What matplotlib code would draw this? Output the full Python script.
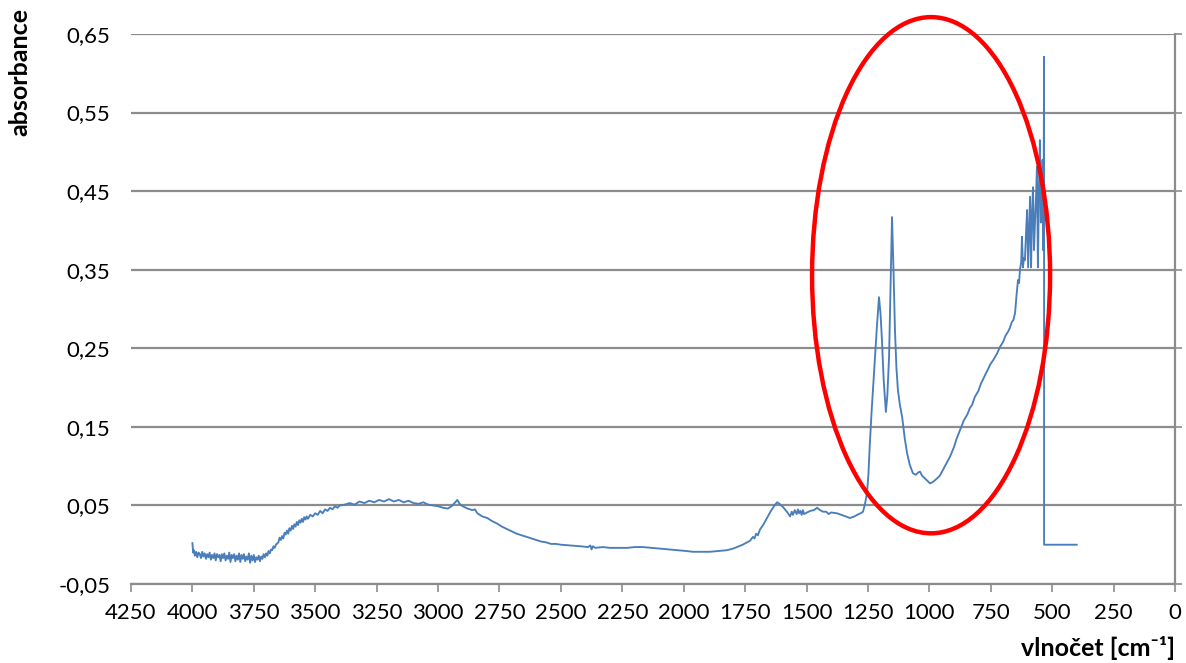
import matplotlib
matplotlib.use("Agg")
import matplotlib.pyplot as plt
from matplotlib.patches import Ellipse
from matplotlib.ticker import FixedLocator, FuncFormatter

plt.rcParams['font.family'] = ['Lato', 'DejaVu Sans']

# ---- data ----
wn_low = [4000, 3997, 3994, 3990, 3985, 3980, 3975, 3970, 3965, 3960, 3955, 3950, 3945,
          3940, 3935, 3930, 3925, 3920, 3915, 3910, 3905, 3900, 3895, 3890, 3885, 3880,
          3875, 3870, 3865, 3860, 3855, 3850, 3845, 3840, 3835, 3830, 3825, 3820, 3815,
          3810, 3805, 3800, 3795, 3790, 3785, 3780, 3775, 3770, 3765, 3760, 3755, 3750,
          3745, 3740, 3735, 3730, 3725, 3720, 3715, 3710, 3705, 3700, 3695, 3690, 3685,
          3680, 3675, 3670, 3665, 3660]
abs_low = [0.002, -0.010, -0.007, -0.014, -0.009, -0.016, -0.010, -0.012, -0.017, -0.009,
           -0.015, -0.011, -0.018, -0.012, -0.016, -0.010, -0.019, -0.013, -0.017, -0.011,
           -0.020, -0.012, -0.016, -0.013, -0.021, -0.012, -0.017, -0.011, -0.020, -0.014,
           -0.018, -0.010, -0.022, -0.013, -0.017, -0.012, -0.021, -0.014, -0.019, -0.011,
           -0.022, -0.013, -0.018, -0.012, -0.021, -0.015, -0.019, -0.011, -0.023, -0.014,
           -0.020, -0.013, -0.022, -0.016, -0.019, -0.014, -0.021, -0.015, -0.018, -0.012,
           -0.016, -0.011, -0.014, -0.008, -0.011, -0.006, -0.007, -0.002, -0.004, 0.000]

wn_oh = [3650, 3645, 3640, 3635, 3630, 3625, 3620, 3615, 3610, 3605, 3600, 3595, 3590,
         3585, 3580, 3575, 3570, 3565, 3560, 3555, 3550, 3545, 3540, 3535, 3530, 3520,
         3510, 3500, 3490, 3480, 3470, 3460, 3450, 3440, 3430, 3420, 3410, 3400, 3380,
         3360, 3340, 3320, 3300, 3280, 3260, 3240, 3220, 3200, 3180, 3160, 3140, 3120,
         3100, 3080, 3060, 3040, 3020, 3000, 2980, 2960, 2945, 2930, 2922, 2912, 2900,
         2880, 2860, 2850, 2840, 2820, 2800, 2780, 2760, 2740, 2720, 2700, 2680, 2660,
         2640, 2620, 2600, 2580, 2560, 2540, 2520, 2500]
abs_oh = [0.003, 0.009, 0.006, 0.011, 0.008, 0.015, 0.013, 0.018, 0.014, 0.021, 0.018,
          0.024, 0.020, 0.026, 0.023, 0.029, 0.025, 0.031, 0.028, 0.033, 0.029, 0.035,
          0.032, 0.036, 0.033, 0.038, 0.036, 0.040, 0.038, 0.043, 0.040, 0.045, 0.043,
          0.047, 0.045, 0.049, 0.047, 0.050, 0.051, 0.053, 0.051, 0.055, 0.053, 0.056,
          0.054, 0.057, 0.055, 0.058, 0.055, 0.057, 0.054, 0.056, 0.053, 0.052, 0.054,
          0.051, 0.050, 0.049, 0.047, 0.046, 0.049, 0.054, 0.057, 0.052, 0.049, 0.046,
          0.044, 0.045, 0.040, 0.036, 0.034, 0.030, 0.027, 0.023, 0.020, 0.017, 0.014,
          0.012, 0.010, 0.008, 0.006, 0.004, 0.003, 0.001, 0.001, 0.000]

wn_mid = [2460, 2420, 2390, 2380, 2375, 2370, 2360, 2330, 2300, 2260, 2230, 2200, 2166,
          2130, 2096, 2060, 2027, 1990, 1962, 1930, 1893, 1860, 1824, 1800, 1783, 1760,
          1742, 1730, 1718, 1712, 1705, 1698, 1690, 1675, 1661, 1645, 1630, 1620, 1610,
          1596, 1580, 1567, 1560, 1555, 1548, 1540, 1535, 1530, 1525, 1520, 1515, 1510,
          1498, 1485, 1470, 1457, 1445, 1433, 1420, 1410, 1400, 1376, 1350, 1323, 1305,
          1294, 1280, 1270]
abs_mid = [-0.001, -0.002, -0.003, -0.001, -0.006, -0.002, -0.004, -0.003, -0.004, -0.004,
           -0.004, -0.003, -0.003, -0.004, -0.005, -0.006, -0.007, -0.008, -0.009, -0.009,
           -0.009, -0.008, -0.007, -0.005, -0.003, 0.000, 0.003, 0.005, 0.010, 0.008,
           0.014, 0.012, 0.019, 0.026, 0.034, 0.043, 0.050, 0.054, 0.052, 0.048, 0.042,
           0.036, 0.042, 0.038, 0.044, 0.039, 0.045, 0.040, 0.043, 0.038, 0.044, 0.039,
           0.041, 0.043, 0.044, 0.047, 0.044, 0.042, 0.042, 0.039, 0.041, 0.040, 0.037,
           0.034, 0.036, 0.038, 0.040, 0.042]

wn_peaks = [1262, 1254, 1248, 1242, 1235, 1228, 1221, 1213, 1205, 1199, 1193, 1186, 1177,
            1171, 1164, 1158, 1152, 1146, 1140, 1134, 1128, 1120, 1111, 1100, 1091, 1080,
            1067, 1055, 1045, 1038, 1030, 1020, 1010, 997, 985, 970, 957, 940, 930, 916,
            900, 890, 875, 860, 845, 835, 826, 815, 800, 790, 782, 770, 760, 753, 740,
            725, 712, 700, 690, 680, 672, 665, 658, 651]
abs_peaks = [0.052, 0.065, 0.090, 0.130, 0.170, 0.205, 0.239, 0.280, 0.315, 0.295, 0.261,
             0.210, 0.169, 0.190, 0.239, 0.330, 0.417, 0.350, 0.273, 0.225, 0.197, 0.178,
             0.163, 0.135, 0.117, 0.102, 0.091, 0.089, 0.092, 0.093, 0.088, 0.085, 0.082,
             0.078, 0.080, 0.084, 0.088, 0.098, 0.104, 0.112, 0.124, 0.134, 0.146, 0.158,
             0.166, 0.174, 0.178, 0.188, 0.196, 0.205, 0.210, 0.218, 0.224, 0.229, 0.235,
             0.243, 0.252, 0.258, 0.266, 0.271, 0.276, 0.283, 0.286, 0.295]

wn_edge = [645, 639, 635, 631, 626, 623, 619, 615, 611, 606, 602, 598, 594, 590, 586, 582,
           578, 574, 570, 566, 562, 558, 554, 550, 546, 543, 541, 539, 537, 535, 533, 533, 400]
abs_edge = [0.318, 0.337, 0.333, 0.350, 0.360, 0.392, 0.353, 0.365, 0.362, 0.400, 0.426,
            0.353, 0.400, 0.443, 0.353, 0.420, 0.455, 0.375, 0.410, 0.440, 0.481, 0.353,
            0.450, 0.515, 0.410, 0.470, 0.440, 0.490, 0.375, 0.420, 0.621, 0.000, 0.000]

x_ticks = [4250, 4000, 3750, 3500, 3250, 3000, 2750, 2500, 2250, 2000, 1750, 1500,
           1250, 1000, 750, 500, 250, 0]
y_ticks = [-0.05, 0.05, 0.15, 0.25, 0.35, 0.45, 0.55, 0.65]

wavenumber = wn_low + wn_oh + wn_mid + wn_peaks + wn_edge
absorbance = abs_low + abs_oh + abs_mid + abs_peaks + abs_edge

# ---- figure ----
W, H = 1186, 663
fig = plt.figure(figsize=(W / 100, H / 100), dpi=100)
ax = fig.add_axes([131 / W, 1 - 584 / H, (1175 - 131) / W, (584 - 34) / H])

ax.plot(wavenumber, absorbance, color='#4a7ebb', lw=1.35, zorder=3)

ax.set_xlim(4250, 0)
ax.set_ylim(-0.05, 0.65)
ax.xaxis.set_major_locator(FixedLocator(x_ticks))
ax.yaxis.set_major_locator(FixedLocator(y_ticks))
ax.yaxis.set_major_formatter(FuncFormatter(lambda v, p: f"{v:.2f}".replace('.', ',')))
ax.xaxis.set_major_formatter(FuncFormatter(lambda v, p: f"{int(round(v))}"))

grid_c = '#8c8c8c'
ax.grid(axis='y', color=grid_c, lw=1.6, zorder=1)
ax.set_axisbelow(True)
for s in ['top', 'left']:
    ax.spines[s].set_visible(False)
ax.spines['bottom'].set_color(grid_c)
ax.spines['bottom'].set_linewidth(1.6)
ax.spines['right'].set_color(grid_c)
ax.spines['right'].set_linewidth(1.6)

ax.tick_params(axis='x', direction='out', length=6, width=1.2, color=grid_c,
               labelsize=16, pad=8, labelcolor='black')
ax.tick_params(axis='y', left=False, right=True, labelleft=True, labelright=False,
               direction='out', length=5, width=1.2, color=grid_c,
               labelsize=16, pad=10, labelcolor='black')

ell = Ellipse((993, 0.343), 969, 0.657, fill=False, edgecolor='#ff0000', lw=3.2,
              clip_on=False, zorder=4)
ax.add_patch(ell)

fig.text(20 / W, 1 - 8 / H, 'absorbance', rotation=90, ha='center', va='top',
         fontsize=18, fontweight='bold')
fig.text(1175 / W, 1 - 648 / H, 'vlnočet [cm⁻¹]', ha='right', va='center',
         fontsize=18, fontweight='bold')

fig.savefig('out.png', dpi=100)
